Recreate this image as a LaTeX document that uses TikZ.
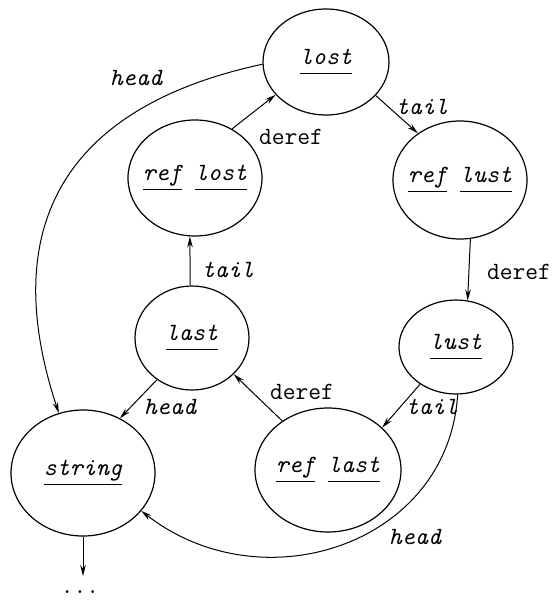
\documentclass[tikz,border=0pt]{standalone}
\usetikzlibrary{shapes.geometric,arrows.meta}
\newcommand\ulx[1]{\underline{\vphantom{g}#1}}
\begin{document}
\begin{tikzpicture}[x=0.5pt,y=-0.5pt,
  st/.style={ellipse,draw,line width=0.6pt,inner sep=0pt},
  tx/.style={font=\fontsize{12.4}{14}\selectfont\ttfamily\itshape,inner sep=0pt},
  up/.style={font=\fontsize{12.4}{14}\selectfont\ttfamily,inner sep=0pt},
  ar/.style={-{Stealth[length=5.5pt,width=2.8pt]},line width=0.5pt}]
\useasboundingbox (0,0) rectangle (552,600);
% states
\node[st,minimum width=63pt,minimum height=53pt,label={[tx]center:\ulx{lost}}] (lost) at (326,62) {};
\node[st,minimum width=67pt,minimum height=58pt,label={[tx]center:\ulx{ref}\ \ulx{lost}}] (reflost) at (195,178) {};
\node[st,minimum width=67pt,minimum height=59pt,label={[tx]center:\ulx{ref}\ \ulx{lust}}] (reflust) at (460,180) {};
\node[st,minimum width=57pt,minimum height=52pt,label={[tx]center:\ulx{last}}] (last) at (192,338) {};
\node[st,minimum width=57pt,minimum height=47pt,label={[tx]center:\ulx{lust}}] (lust) at (456,347) {};
\node[st,minimum width=73pt,minimum height=62pt,label={[tx]center:\ulx{ref}\ \ulx{last}}] (reflast) at (328,470) {};
\node[st,minimum width=72pt,minimum height=63pt,label={[tx]center:\ulx{string}}] (string) at (83,473) {};
\coordinate (dtop) at (83,576);
\node[up] (dots) at (80,592) {...};
% edges
\draw[ar] (reflost.53) -- (lost.213);
\draw[ar] (lost.-34) -- (reflust.132);
\draw[ar] (reflust.-80) -- (lust.76);
\draw[ar] (last.92) -- (reflost.265);
\draw[ar] (last.230) -- (string.56);
\draw[ar] (reflast.133) -- (last.-41);
\draw[ar] (lust.226) -- (reflast.38);
\draw[ar] (lost.182) .. controls (68,106) and (-4,223) .. (string.112);
\draw[ar] (lust.-88) .. controls (448,545) and (262,605) .. (string.-33);
\draw[ar] (string.south) -- (dtop);
% edge labels
\node[tx] (h1) at (136,78) {head};
\node[up] (d1) at (291,137) {deref};
\node[tx] (t1) at (422,107) {tail};
\node[up] (d2) at (519,272) {deref};
\node[tx] (t2) at (228,270) {tail};
\node[tx] (h2) at (170,407) {head};
\node[up] (d3) at (302,392) {deref};
\node[tx] (t3) at (432,407) {tail};
\node[tx] (h3) at (415,537) {head};
\end{tikzpicture}
\end{document}
